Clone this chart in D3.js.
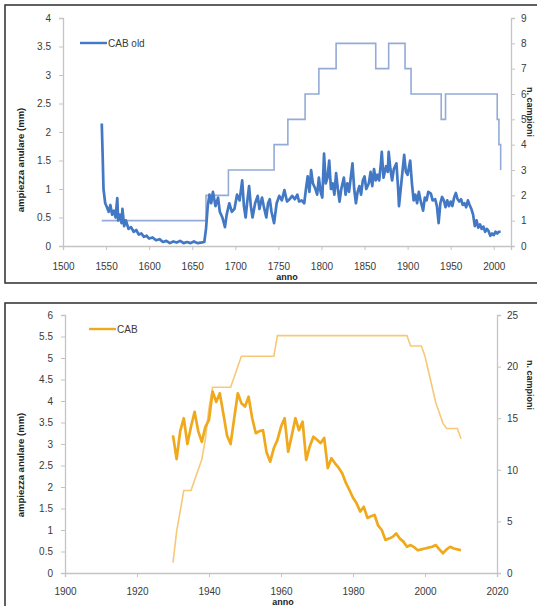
<!DOCTYPE html>
<html>
<head>
<meta charset="utf-8">
<script src="https://cdn.jsdelivr.net/npm/d3@7"></script>
<style>
  body { margin: 0; background: #fff; }
  text { font-family: "Liberation Sans", Arial, sans-serif; }
</style>
</head>
<body>
<svg id="chart"></svg>
<script>
let w = 537;
let h = 606;

// panel 1 - CAB old
let oldYears = [1545,1546,1547,1549,1551,1553,1555,1557,1559,1561,1563,1564,1566,1568,1569,1571,1573,1576,1579,1582,1585,1588,1591,1594,1597,1600,1604,1608,1612,1616,1620,1624,1628,1632,1636,1640,1644,1648,1652,1656,1660,1664,1666,1668,1670,1672,1674,1677,1680,1682,1685,1688,1690,1693,1696,1699,1702,1705,1708,1710,1712,1714,1716,1718,1720,1723,1726,1728,1731,1733,1736,1738,1740,1742,1745,1748,1751,1754,1757,1760,1763,1766,1769,1772,1774,1777,1780,1782,1784,1786,1788,1790,1793,1795,1797,1799,1801,1803,1805,1807,1809,1811,1813,1815,1817,1819,1821,1823,1826,1828,1830,1832,1834,1836,1838,1840,1842,1844,1846,1848,1850,1852,1855,1857,1859,1861,1863,1865,1867,1869,1870,1872,1875,1877,1878,1880,1882,1884,1887,1889,1890,1892,1894,1896,1898,1900,1903,1905,1907,1909,1911,1913,1915,1918,1920,1922,1924,1927,1929,1932,1934,1936,1938,1940,1942,1944,1946,1948,1950,1952,1954,1956,1958,1960,1962,1964,1966,1968,1970,1972,1974,1976,1978,1980,1982,1984,1986,1988,1990,1992,1994,1996,1998,2000,2002,2004,2006,2008];
let oldWidth = [2.15,1.6,1.0,0.75,0.68,0.6,0.72,0.55,0.62,0.5,0.84,0.45,0.55,0.4,0.65,0.35,0.45,0.3,0.33,0.25,0.28,0.2,0.22,0.16,0.18,0.13,0.15,0.1,0.12,0.07,0.09,0.05,0.08,0.06,0.09,0.05,0.07,0.05,0.08,0.05,0.06,0.07,0.3,0.7,0.9,0.75,0.95,0.7,0.85,0.6,0.5,0.33,0.55,0.75,0.6,0.65,0.9,0.8,1.15,0.7,0.5,0.8,1.05,0.7,0.5,0.75,0.88,0.65,0.85,0.7,0.5,0.75,0.82,0.6,0.4,0.75,0.88,0.8,0.98,0.78,0.82,0.88,0.82,0.9,0.78,0.8,0.75,1.0,1.22,0.95,1.33,1.1,1.0,0.9,1.2,0.95,0.85,1.62,1.1,1.2,1.5,1.0,1.1,0.9,1.28,1.0,0.78,1.0,1.2,0.9,1.1,0.95,1.2,1.45,1.0,0.75,0.95,1.05,0.9,1.15,1.22,1.0,1.1,1.3,1.05,1.35,1.15,1.25,1.15,1.45,1.65,1.2,1.4,1.3,1.65,1.35,1.15,1.35,1.45,1.0,0.7,1.0,1.3,1.6,1.3,1.25,1.5,1.1,0.8,0.9,0.75,0.95,0.8,0.62,0.85,0.8,0.95,0.92,0.8,0.82,0.7,0.4,0.75,0.86,0.8,0.68,0.8,0.7,0.78,0.7,0.85,0.93,0.82,0.78,0.82,0.72,0.75,0.68,0.8,0.72,0.65,0.55,0.35,0.45,0.32,0.38,0.3,0.34,0.25,0.3,0.26,0.18,0.22,0.19,0.25,0.22,0.25,0.25];
// sample count, as steps (year where the count changes)
let oldCountYears = [1545,1666,1692,1745,1761,1781,1797,1817,1863,1878,1897,1904,1939,1944,2002,2004,2006,2008];
let oldCount = [1,2,3,4,5,6,7,8,7,8,7,6,5,6,6,5,4,3];

// panel 2 - CAB
let newYears = [1930,1931,1932,1933,1934,1935,1936,1937,1938,1939,1940,1941,1942,1943,1944,1945,1946,1947,1948,1949,1950,1951,1952,1953,1954,1955,1956,1957,1958,1959,1960,1961,1962,1963,1964,1965,1966,1967,1968,1969,1970,1971,1972,1973,1974,1975,1976,1977,1978,1979,1980,1981,1982,1983,1984,1985,1986,1987,1988,1989,1990,1991,1992,1993,1994,1995,1996,1997,1998,1999,2000,2001,2002,2003,2004,2005,2006,2007,2008,2009,2010];
let newWidth = [3.2,2.65,3.3,3.6,3.0,3.4,3.75,3.3,3.05,3.4,3.56,4.22,3.98,4.18,3.7,3.2,3.0,3.6,4.18,3.95,3.87,4.1,3.6,3.25,3.3,3.32,2.8,2.59,2.9,3.09,3.4,3.6,2.82,3.2,3.6,3.32,3.52,2.63,2.95,3.17,3.1,3.02,3.14,2.44,2.67,2.55,2.45,2.32,2.1,1.93,1.75,1.62,1.43,1.54,1.28,1.32,1.35,1.1,1.0,0.77,0.8,0.84,0.92,0.8,0.73,0.61,0.65,0.6,0.53,0.55,0.57,0.59,0.61,0.65,0.55,0.46,0.55,0.61,0.57,0.55,0.53];
let newCountYears = [1930,1931,1932,1933,1934,1935,1936,1937,1938,1939,1940,1941,1942,1943,1944,1945,1946,1947,1948,1949,1950,1951,1952,1953,1954,1955,1956,1957,1958,1959,1960,1970,1980,1990,1995,1996,1997,1998,1999,2000,2001,2002,2003,2004,2005,2006,2007,2008,2009,2010];
let newCount = [1,4,6,8,8,8,9,10,11,13,16,18,18,18,18,18,18,19,20,21,21,21,21,21,21,21,21,21,21,23,23,23,23,23,23,22,22,22,22,21,19.5,18,16.5,15.5,14.5,14,14,14,14,13];

let svg = d3.select("#chart")
  .attr("width", w)
  .attr("height", h);

function drawPanel(cfg) {
  let g = svg.append("g");

  // frame
  g.append("rect")
    .attr("x", cfg.frame[0])
    .attr("y", cfg.frame[1])
    .attr("width", cfg.frame[2])
    .attr("height", cfg.frame[3])
    .attr("fill", "none")
    .attr("stroke", "#3a3a3a")
    .attr("stroke-width", 1.6);

  let xScale = d3.scaleLinear().domain(cfg.xDomain).range([cfg.left, cfg.right]);
  let yScale = d3.scaleLinear().domain(cfg.yDomain).range([cfg.bottom, cfg.top]);
  let y2Scale = d3.scaleLinear().domain(cfg.y2Domain).range([cfg.bottom, cfg.top]);

  let xAxis = d3.axisBottom(xScale).tickValues(cfg.xTicks).tickFormat(d3.format("d")).tickSize(4);
  let yAxis = d3.axisLeft(yScale).tickValues(cfg.yTicks).tickFormat(d => String(d)).tickSize(4);
  let y2Axis = d3.axisRight(y2Scale).tickValues(cfg.y2Ticks).tickFormat(d3.format("d")).tickSize(4);

  let xg = g.append("g").attr("transform", `translate(0,${cfg.bottom})`).call(xAxis);
  let yg = g.append("g").attr("transform", `translate(${cfg.left},0)`).call(yAxis);
  let y2g = g.append("g").attr("transform", `translate(${cfg.right},0)`).call(y2Axis);

  [xg, yg, y2g].forEach(a => {
    a.selectAll("path").attr("stroke", "#c4c4c4").attr("stroke-width", 1.3);
    a.selectAll("line").attr("stroke", "#c4c4c4");
    a.selectAll("text")
      .attr("font-size", 10)
      .attr("fill", "#3a3a3a")
      .attr("font-family", "Liberation Sans, Arial, sans-serif");
  });
  xg.selectAll("text").attr("dy", cfg.xTickDy);
  yg.selectAll("text").attr("x", -12);
  y2g.selectAll("text").attr("x", 10);

  // count line (secondary axis)
  let countLine = d3.line()
    .x(d => xScale(d[0]))
    .y(d => y2Scale(d[1]))
    .curve(cfg.stepped ? d3.curveStepAfter : d3.curveLinear);
  g.append("path")
    .datum(d3.zip(cfg.countYears, cfg.count))
    .attr("d", countLine)
    .attr("fill", "none")
    .attr("stroke", cfg.countColor)
    .attr("stroke-width", 1.6);

  // ring width line
  let widthLine = d3.line()
    .x(d => xScale(d[0]))
    .y(d => yScale(d[1]));
  g.append("path")
    .datum(d3.zip(cfg.years, cfg.width))
    .attr("d", widthLine)
    .attr("fill", "none")
    .attr("stroke", cfg.color)
    .attr("stroke-width", 2.7)
    .attr("stroke-linejoin", "round");

  // legend
  g.append("line")
    .attr("x1", cfg.legend[0]).attr("x2", cfg.legend[0] + 27)
    .attr("y1", cfg.legend[1]).attr("y2", cfg.legend[1])
    .attr("stroke", cfg.color)
    .attr("stroke-width", 2.4);
  g.append("text")
    .attr("x", cfg.legend[0] + 28)
    .attr("y", cfg.legend[1])
    .attr("dy", "0.35em")
    .attr("font-size", 10)
    .attr("fill", "#3a3a3a")
    .text(cfg.name);

  // axis titles
  g.append("text")
    .attr("transform", `translate(24,${cfg.yTitle}) rotate(-90)`)
    .attr("text-anchor", "middle")
    .attr("font-size", 9.5)
    .attr("font-weight", "bold")
    .attr("fill", "#222")
    .text("ampiezza anulare (mm)");
  g.append("text")
    .attr("transform", `translate(527,${cfg.y2Title}) rotate(90)`)
    .attr("text-anchor", "middle")
    .attr("font-size", 9)
    .attr("font-weight", "bold")
    .attr("fill", "#222")
    .text("n. campioni");
  g.append("text")
    .attr("x", cfg.xTitle[0])
    .attr("y", cfg.xTitle[1])
    .attr("text-anchor", "middle")
    .attr("font-size", 9)
    .attr("font-weight", "bold")
    .attr("fill", "#222")
    .text("anno");
}

drawPanel({
  frame: [5, 5, 540, 278],
  left: 63, right: 511, top: 18, bottom: 246,
  xDomain: [1500, 2020], yDomain: [0, 4], y2Domain: [0, 9],
  xTicks: d3.range(1500, 2001, 50),
  yTicks: d3.range(0, 4.01, 0.5),
  y2Ticks: d3.range(0, 10, 1),
  xTickDy: "1.7em",
  years: oldYears, width: oldWidth,
  countYears: oldCountYears, count: oldCount,
  stepped: true,
  color: "#4278c4", countColor: "#93abd6",
  name: "CAB old",
  legend: [80, 43],
  yTitle: 160, y2Title: 112,
  xTitle: [287, 280]
});

drawPanel({
  frame: [5, 303, 540, 310],
  left: 65, right: 497, top: 315, bottom: 573,
  xDomain: [1900, 2020], yDomain: [0, 6], y2Domain: [0, 25],
  xTicks: d3.range(1900, 2021, 20),
  yTicks: d3.range(0, 6.01, 0.5),
  y2Ticks: d3.range(0, 26, 5),
  xTickDy: "1.45em",
  years: newYears, width: newWidth,
  countYears: newCountYears, count: newCount,
  stepped: false,
  color: "#f0a91c", countColor: "#f7c878",
  name: "CAB",
  legend: [89, 329],
  yTitle: 465, y2Title: 385,
  xTitle: [283, 605]
});
</script>
</body>
</html>
